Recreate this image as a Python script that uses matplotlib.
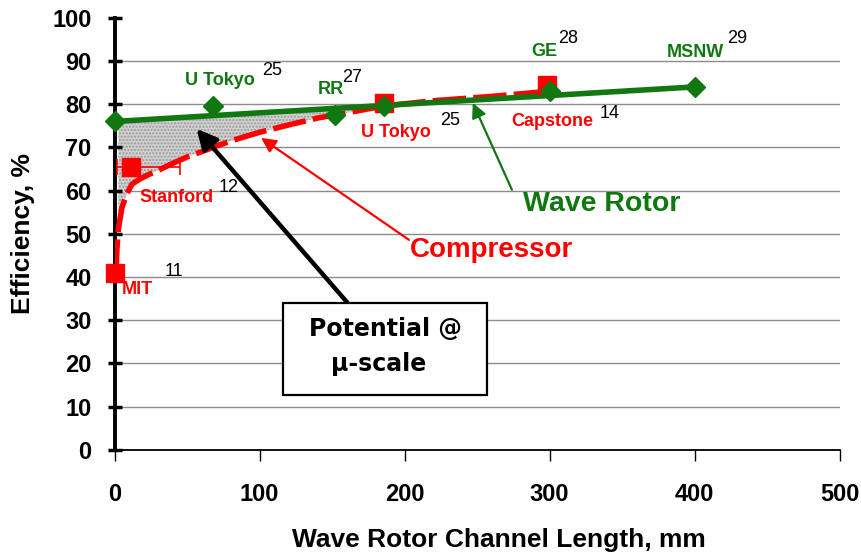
import matplotlib
matplotlib.use("Agg")
import matplotlib.pyplot as plt
import numpy as np
from matplotlib.patches import Rectangle

plt.rcParams['font.family'] = ['Liberation Sans', 'DejaVu Sans']

# ---- data ----
wave_x = [0, 68, 152, 186, 300, 400]
wave_y = [76, 79.5, 77.5, 79.5, 83, 84]
wave_fit_x = [0, 400]
wave_fit_y = [76, 84]

comp_x = [0, 11, 186, 298]
comp_y = [41, 65.5, 80.2, 84.5]
stanford_xerr_lo = 9.5
stanford_xerr_hi = 34

comp_curve_x = [1, 1.5, 2.5, 5, 8, 12, 18, 24, 32, 40, 50, 60, 70, 85, 100,
                120, 140, 160, 186, 220, 260, 300]
comp_curve_y = [41, 46, 51, 56, 59, 61.5, 62.8, 63.8, 65, 66.3, 67.8, 69, 70.3,
                72, 73.5, 75.2, 76.8, 78, 79.6, 80.8, 81.8, 83]

xticks = [0, 100, 200, 300, 400, 500]
yticks = list(range(0, 101, 10))

GREEN = '#117711'
RED = '#ff0000'

fig = plt.figure(figsize=(8.62, 5.56), dpi=100)
ax = fig.add_axes([0.133, 0.191, 0.841, 0.777])
ax.set_xlim(0, 500)
ax.set_ylim(0, 100)

# grid
for yv in yticks[1:-1]:
    ax.axhline(yv, color='#8c8c8c', lw=1.0, zorder=0)

# shaded region
cx = np.array(comp_curve_x, dtype=float)
cy = np.array(comp_curve_y, dtype=float)
line_y = np.interp(cx, wave_fit_x, wave_fit_y)
mask = cx >= 2.5
ax.fill_between(cx[mask], cy[mask], line_y[mask], where=line_y[mask] >= cy[mask],
                interpolate=True, facecolor='#d0d0d0', edgecolor='#999999',
                hatch='.....', lw=0, zorder=1)

# compressor curve
ax.plot(cx, cy, color=RED, lw=4, dashes=(6, 1.3), solid_capstyle='butt',
        dash_capstyle='butt', zorder=3)
# wave fit line
ax.plot(wave_fit_x, wave_fit_y, color=GREEN, lw=4, zorder=4)

# Stanford error bar
ax.errorbar([comp_x[1]], [comp_y[1]], xerr=[[stanford_xerr_lo], [stanford_xerr_hi]],
            fmt='none', ecolor=RED, elinewidth=1.2, capsize=6, capthick=1.2, zorder=3)
# markers
ax.plot(comp_x, comp_y, 's', color=RED, ms=13, zorder=5, clip_on=False)
ax.plot(wave_x, wave_y, 'D', color=GREEN, ms=10.5, zorder=6, clip_on=False)

# spines / ticks
for s in ['top', 'right']:
    ax.spines[s].set_visible(False)
ax.spines['left'].set_linewidth(2.8)
ax.spines['bottom'].set_linewidth(1.3)
ax.set_xticks(xticks)
ax.set_yticks(yticks)
ax.tick_params(axis='y', direction='inout', length=10, width=2.5, pad=11.5)
ax.tick_params(axis='x', direction='out', length=8, width=1.0, pad=16)
for lab in ax.get_xticklabels() + ax.get_yticklabels():
    lab.set_fontsize(17)
    lab.set_fontweight('bold')

ax.set_xlabel('Wave Rotor Channel Length, mm', fontsize=19, fontweight='bold')
ax.set_ylabel('Efficiency, %', fontsize=19, fontweight='bold')
ax.xaxis.set_label_coords(0.53, -0.181)
ax.yaxis.set_label_coords(-0.110, 0.501)

# point labels
def lab(x, y, txt, col, sx, sy, sup):
    ax.text(x, y, txt, color=col, fontsize=13, fontweight='bold', va='center', ha='left', zorder=7)
    ax.text(sx, sy, sup, color='black', fontsize=13, va='center', ha='left', zorder=7)

lab(48.3, 85.6, 'U Tokyo', GREEN, 101.4, 87.8, '25')
lab(140, 83.3, 'RR', GREEN, 157, 86.2, '27')
lab(287, 92.2, 'GE', GREEN, 306, 95.3, '28')
lab(380.7, 92.0, 'MSNW', GREEN, 422.5, 95.3, '29')
lab(170, 73.4, 'U Tokyo', RED, 224.5, 76.3, '25')
lab(273.8, 75.9, 'Capstone', RED, 334.5, 77.8, '14')
lab(17.2, 58.3, 'Stanford', RED, 71.5, 60.8, '12')
lab(4.8, 37.0, 'MIT', RED, 34.5, 41.2, '11')

# big labels and arrows
ax.text(260, 46.3, 'Compressor', color=RED, fontsize=20, fontweight='bold', ha='center', va='center', zorder=7)
ax.annotate('', xy=(101, 72.2), xytext=(203, 48.6),
            arrowprops=dict(arrowstyle='-|>', color=RED, lw=1.6, mutation_scale=22,
                            shrinkA=0, shrinkB=0), zorder=7)
ax.text(336, 56.8, 'Wave Rotor', color=GREEN, fontsize=20.5, fontweight='bold',
        ha='center', va='center', zorder=7)
ax.annotate('', xy=(247, 80.3), xytext=(274, 60.2),
            arrowprops=dict(arrowstyle='-|>', color=GREEN, lw=1.6, mutation_scale=22,
                            shrinkA=0, shrinkB=0), zorder=7)
ax.annotate('', xy=(56.5, 74.3), xytext=(160.7, 34.0),
            arrowprops=dict(arrowstyle='-|>', color='black', lw=3.2, mutation_scale=30,
                            shrinkA=0, shrinkB=0), zorder=7)

# box
ax.add_patch(Rectangle((115.9, 12.7), 141.1, 21.3, facecolor='white', edgecolor='black',
                       lw=1.6, zorder=8))
ax.text(186.5, 28.0, 'Potential @', fontsize=17, fontweight='bold', family='DejaVu Sans',
        ha='center', va='center', zorder=9)
ax.text(182, 19.8, '\u03bc-scale', fontsize=17, fontweight='bold', family='DejaVu Sans',
        ha='center', va='center', zorder=9)

fig.savefig('out.png', dpi=100)
